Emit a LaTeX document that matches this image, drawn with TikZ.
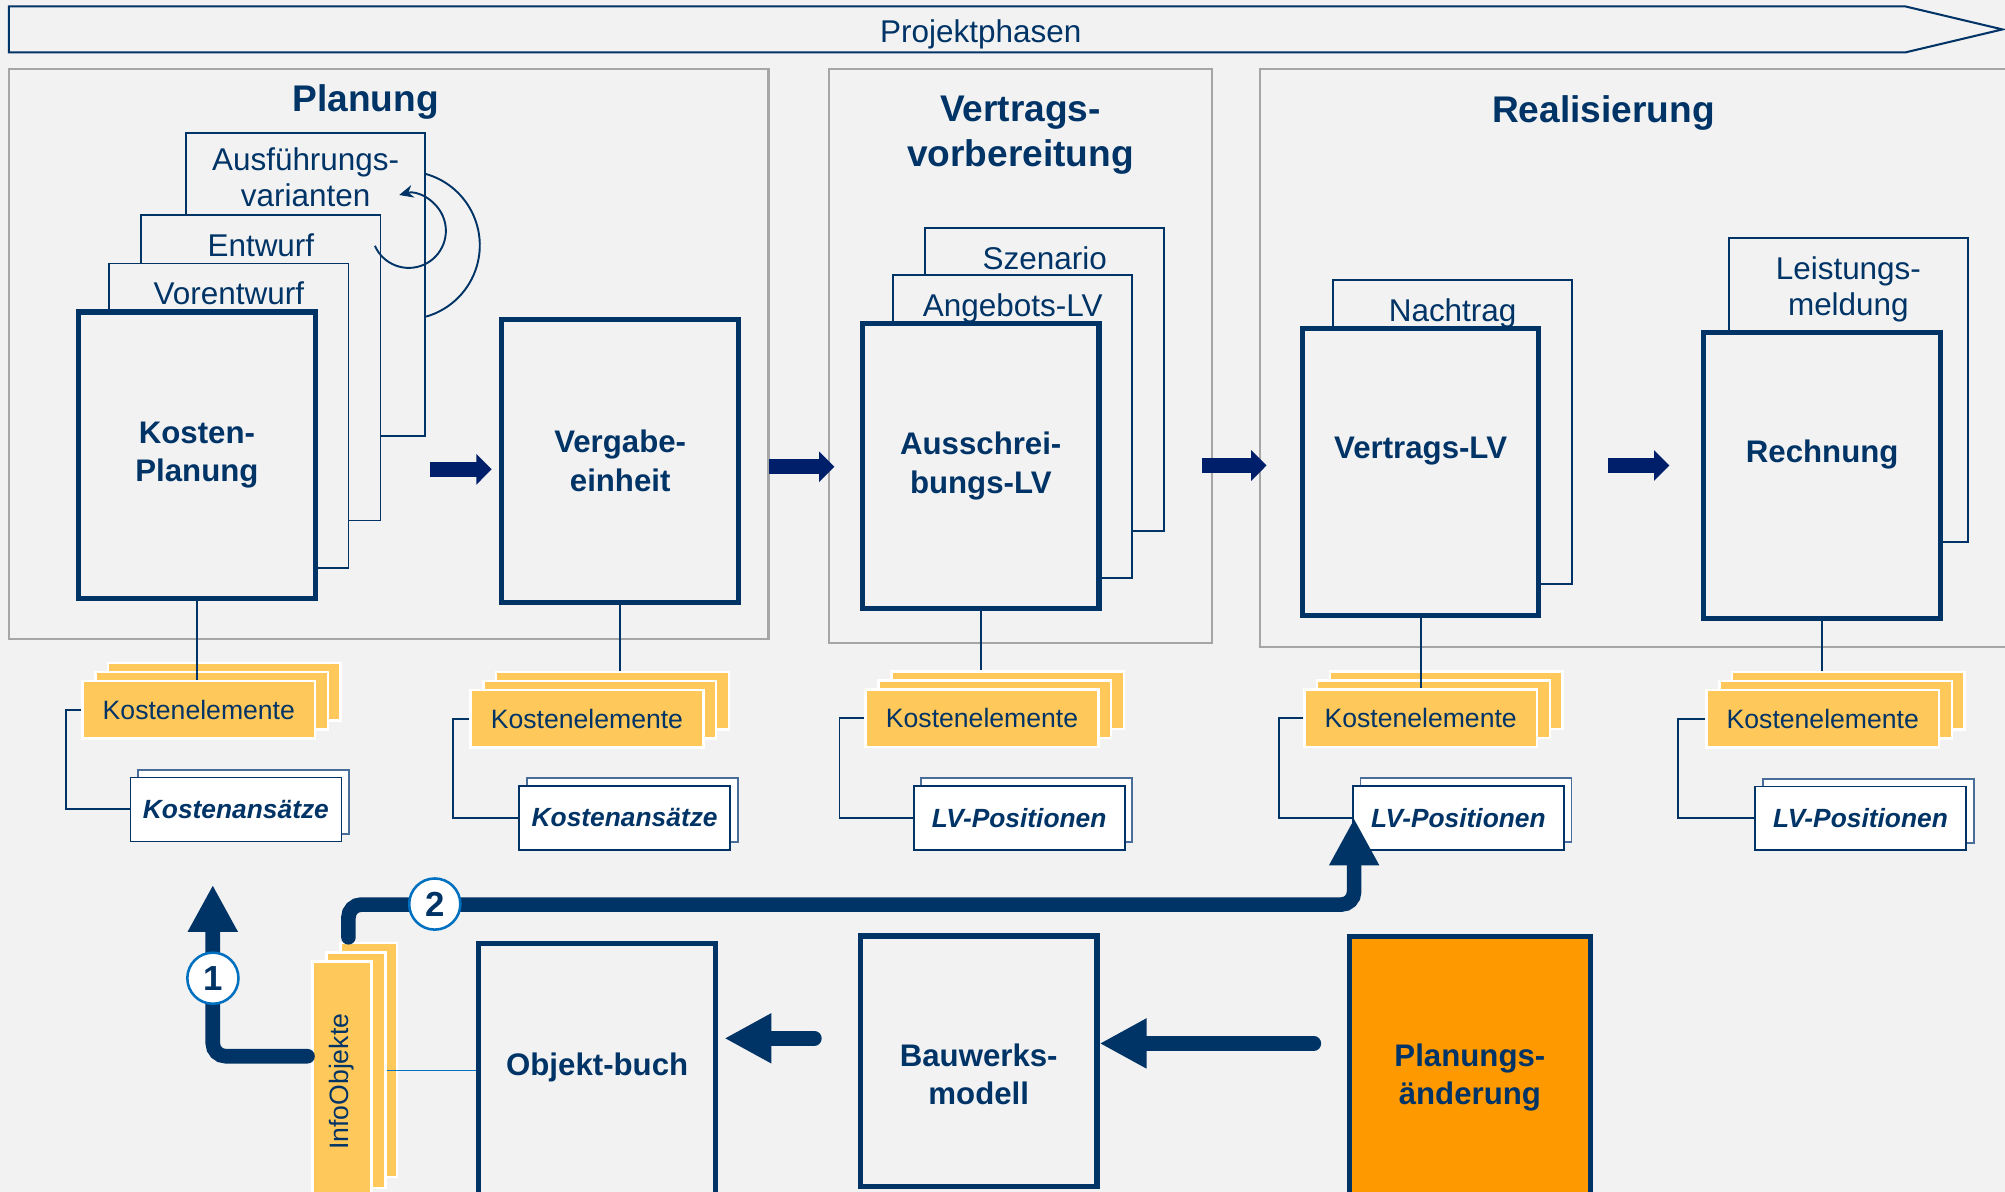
\documentclass[tikz,border=0pt]{standalone}
\usepackage{fontspec}
\setmainfont{Liberation Sans}
\usetikzlibrary{arrows.meta}

\definecolor{navy}{HTML}{003366}
\definecolor{pfeilblau}{HTML}{001F6B}
\definecolor{kreisblau}{HTML}{0070C0}
\definecolor{grund}{HTML}{F2F2F2}
\definecolor{rahmengrau}{HTML}{A6A6A6}
\definecolor{gelb}{HTML}{FFC85A}
\definecolor{aenderung}{HTML}{FF9900}
\definecolor{randblau}{HTML}{4A6E9A}

\begin{document}
\begin{tikzpicture}[x=0.5pt, y=-0.5pt,
    rahmen/.style={draw=rahmengrau, line width=0.8pt, inner sep=0pt},
    titel/.style={text=navy, font=\bfseries\fontsize{14.5}{17.5}\selectfont, align=center},
    blatt/.style={draw=navy, line width=0.7pt, fill=grund, inner sep=0pt, minimum width=93.5pt},
    blattschrift/.style={anchor=north, yshift=-7.5pt, inner sep=0pt, text=navy, font=\fontsize{12.3}{14}\selectfont, align=center},
    hauptbox/.style={draw=navy, line width=2pt, fill=grund, inner sep=0pt, minimum width=92.5pt, text=navy, font=\bfseries\fontsize{12.2}{15}\selectfont, align=center},
    element/.style={draw=white, line width=1pt, fill=gelb, inner sep=0pt, minimum width=91pt, minimum height=22.5pt, text=navy, font=\fontsize{10.4}{12}\selectfont},
    posten/.style={draw=navy, line width=0.7pt, fill=white, inner sep=0pt, minimum width=82.5pt, minimum height=25pt, text=navy, font=\bfseries\itshape\fontsize{10.3}{12}\selectfont},
    linie/.style={draw=navy, line width=0.75pt},
    phasenpfeil/.style={draw=pfeilblau, line width=6pt, -{Triangle[width=11.7pt, length=6pt]}},
    dickpfeil/.style={draw=navy, line width=5.7pt, line cap=round, rounded corners=5pt, -{Triangle[width=18.3pt, length=18.4pt]}},
    nummer/.style={circle, draw=kreisblau, line width=1pt, fill=white, minimum size=20pt, inner sep=0pt, text=navy, font=\bfseries\fontsize{13.6}{16}\selectfont},
    verbinder/.style={draw=kreisblau, line width=0.6pt}]

    \path[use as bounding box, fill=grund] (0,0) rectangle (1568,932);

    % Projektphasen
    \draw[navy, line width=0.8pt] (7,5) -- (1490,5) -- (1566,23) -- (1490,41) -- (7,41) -- cycle;
    \node[text=navy, font=\fontsize{12.3}{14}\selectfont] (pp) at (767,27) {Projektphasen};

    % Phasen
    \node[rahmen, minimum width=297pt, minimum height=223pt] (pl) at (304,277) {};
    \node[rahmen, minimum width=150pt, minimum height=224.5pt] (vv) at (798,278.5) {};
    \node[rahmen, minimum width=297.5pt, minimum height=226pt] (rs) at (1282.5,280) {};
    \node[titel] (tpl) at (286,80) {Planung};
    \node[titel] (tvv) at (798,105.5) {Vertrags-\\vorbereitung};
    \node[titel] (trs) at (1254,88) {Realisierung};

    % Planung
    \node[blatt, minimum height=118.5pt, label={[blattschrift, yshift=1.5pt]north:Ausführungs-\\varianten}] (aus) at (239,222.5) {};
    \node[blatt, minimum height=119.5pt, label={[blattschrift]north:Entwurf}] (ent) at (204,287.5) {};
    \node[blatt, minimum height=119pt, label={[blattschrift]north:Vorentwurf}] (vor) at (179,325) {};
    \node[hauptbox, minimum height=112pt] (kp) at (154,356) {Kosten-\\Planung};
    \draw[linie] ([yshift=43.2pt]aus.east) arc[start angle=-74, end angle=74, radius=58];
    \draw[linie, -{Stealth[length=5.5pt, width=5pt]}] ([xshift=-2.5pt, yshift=-12.5pt]ent.north east)
        arc[start angle=156, end angle=-105, radius=29];

    \node[hauptbox, minimum height=110.5pt] (ve) at (485,360.5) {Vergabe-\\einheit};

    % Vertragsvorbereitung
    \node[blatt, minimum height=118.5pt, label={[blattschrift]north:Szenario}] (sz) at (817,296.5) {};
    \node[blatt, minimum height=118.5pt, label={[blattschrift]north:Angebots-LV}] (an) at (792,333.5) {};
    \node[hauptbox, minimum height=111.5pt] (as) at (767,364.5) {Ausschrei-\\bungs-LV};

    % Realisierung
    \node[blatt, minimum height=119pt, label={[blattschrift]north:Nachtrag}] (na) at (1136,338) {};
    \node[hauptbox, minimum height=112pt] (vl) at (1111,369) {Vertrags-LV\\[4pt]~};
    \node[blatt, minimum height=119pt, label={[blattschrift]north:Leistungs-\\meldung}] (lm) at (1445.5,305) {};
    \node[hauptbox, minimum height=112pt] (re) at (1425,371.7) {Rechnung\\[4pt]~};

    \foreach \von/\nach/\y/\s/\t in {aus/ve/367/1.5/3, ve/as/365/11/10, sz/vl/364/14.5/13, na/re/364/13.5/12.5}
        \draw[phasenpfeil, shorten <=\s pt, shorten >=\t pt] (\von.east |- 0,\y) -- (\nach.west |- 0,\y);

    % Kostenelemente und Positionen
    \foreach \i/\kx/\ky/\lx/\ly/\abst/\haupt/\ende/\txt in {
        1/155.5/555/184.5/633/12/kp/ke1/Kostenansätze,
        2/459/562/488.5/639.5/13/ve/kec2/Kostenansätze,
        3/768/561.6/797/639.5/19.5/as/kec3/LV-Positionen,
        4/1111/561.6/1140.5/639.5/19/vl/ke4/LV-Positionen,
        5/1425.5/562/1455/640/21/re/kec5/LV-Positionen} {
        \node[element] (kec\i) at (\kx+20,\ky-14) {};
        \node[element] (keb\i) at (\kx+10,\ky-7) {};
        \node[element] (ke\i) at (\kx,\ky) {Kostenelemente};
        \node[posten, draw=randblau] (lpb\i) at (\lx+6,\ly-6) {};
        \node[posten] (lp\i) at (\lx,\ly) {\txt};
        \draw[linie] (ke\i.west) -- ++(-\abst,0) |- (lp\i.west);
        \draw[linie] (\haupt.south) -- (\haupt.south |- \ende.north);
    }

    % unten
    \node[element, minimum width=22pt, minimum height=91.5pt] (io3) at (288.5,829) {};
    \node[element, minimum width=23pt, minimum height=92pt] (io2) at (278.5,837) {};
    \node[element, minimum width=23pt, minimum height=94pt] (io1) at (267.5,846) {\rotatebox{90}{InfoObjekte}};
    \node[hauptbox, minimum height=115pt, label={[text=navy, font=\bfseries\fontsize{12.2}{15}\selectfont, yshift=9.3pt]center:Objekt-buch}] (ob) at (467,853) {};
    \node[hauptbox, minimum height=98pt, label={[text=navy, font=\bfseries\fontsize{12.2}{15}\selectfont, align=center, yshift=-5pt]center:Bauwerks-\\modell}] (bw) at (765.4,830) {};
    \node[hauptbox, fill=aenderung, minimum width=94pt, minimum height=110pt] (pa) at (1149.5,842.5) {Planungs-\\änderung};

    \draw[verbinder] (io2.east |- 0,837) -- (ob.west |- 0,837);
    \draw[dickpfeil, shorten <=13pt] (pa.west |- 0,816) -- (bw.east |- 0,816);
    \draw[dickpfeil, shorten <=17pt, shorten >=2.5pt] (bw.west |- 0,812) -- (ob.east |- 0,812);

    \coordinate (ziel1) at (166.4,692);
    \coordinate (ziel2) at (1059,640);
    \draw[dickpfeil, shorten <=1.5pt] ([yshift=10pt]io1.west) -| (ziel1);
    \draw[dickpfeil] ([xshift=-8pt, yshift=1.75pt]io3.north) -- ++(0,-25.6) -| (ziel2);
    \node[nummer] (n1) at (166.5,765) {1};
    \node[nummer] (n2) at (340,707) {2};
\end{tikzpicture}
\end{document}
